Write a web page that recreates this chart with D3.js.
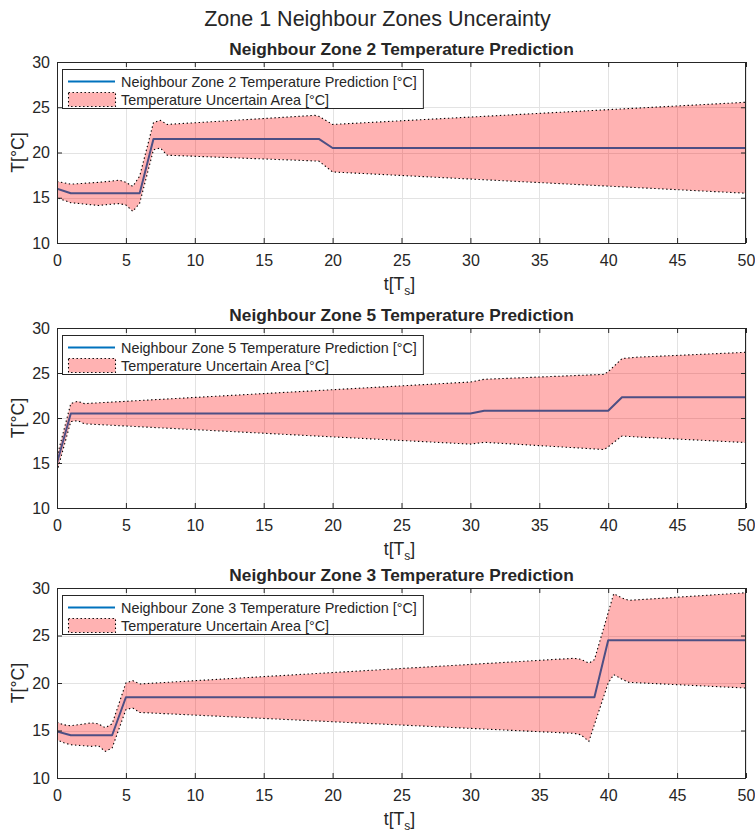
<!DOCTYPE html>
<html>
<head>
<meta charset="utf-8">
<script src="https://cdn.jsdelivr.net/npm/d3@7"></script>
<style>
  body { margin: 0; background: #fff; }
  svg { display: block; }
  text { font-family: "Liberation Sans", Arial, Helvetica, sans-serif; fill: #262626; }
</style>
</head>
<body>
<svg id="chart" width="755" height="834"></svg>
<script>
// ---- data ----
const figureTitle = "Zone 1 Neighbour Zones Uncerainty";
const panelTitles = [
  "Neighbour Zone 2 Temperature Prediction",
  "Neighbour Zone 5 Temperature Prediction",
  "Neighbour Zone 3 Temperature Prediction"
];
const lineLabels = [
  "Neighbour Zone 2 Temperature Prediction [°C]",
  "Neighbour Zone 5 Temperature Prediction [°C]",
  "Neighbour Zone 3 Temperature Prediction [°C]"
];
const bandLabel = "Temperature Uncertain Area [°C]";
const xTicks = [0, 5, 10, 15, 20, 25, 30, 35, 40, 45, 50];
const yTicks = [10, 15, 20, 25, 30];

// Zone 2
const zone2T = [0, 1, 6, 7, 19, 20, 50];
const zone2Temp = [16, 15.5, 15.5, 21.5, 21.5, 20.5, 20.5];
const zone2UpperT = [0, 1, 2, 3, 4, 4.5, 5, 5.5, 6, 7, 7.5, 8, 18.7, 19, 20, 50];
const zone2Upper = [16.8, 16.5, 16.6, 16.7, 16.85, 16.95, 16.7, 16.25, 17.4, 23.3, 23.55, 23.1, 24.1, 24.0, 23.1, 25.55];
const zone2LowerT = [0, 1, 2, 3, 4, 4.5, 5, 5.5, 6, 7, 7.5, 8, 19, 20, 50];
const zone2Lower = [15.0, 14.45, 14.3, 14.15, 14.3, 14.35, 14.2, 13.5, 14.4, 20.3, 20.5, 19.7, 19.05, 17.85, 15.5];

// Zone 5
const zone5T = [0, 1, 30, 31, 40, 41, 50];
const zone5Temp = [15, 20.5, 20.5, 20.8, 20.8, 22.3, 22.3];
const zone5UpperT = [0, 1, 1.5, 2, 30, 31, 39.7, 40, 41, 42, 50];
const zone5Upper = [15.7, 21.6, 21.85, 21.6, 24.0, 24.3, 24.85, 25.15, 26.6, 26.75, 27.3];
const zone5LowerT = [0, 1, 1.5, 2, 30, 31, 39.7, 40, 41, 42, 50];
const zone5Lower = [14.05, 19.6, 19.7, 19.35, 17.1, 17.3, 16.5, 16.8, 18.0, 17.9, 17.27];

// Zone 3
const zone3T = [0, 1, 4, 5, 39, 40, 50];
const zone3Temp = [14.9, 14.5, 14.5, 18.5, 18.5, 24.5, 24.5];
const zone3UpperT = [0, 0.5, 1, 2.5, 3, 3.5, 4, 5, 5.5, 6, 37.5, 38, 38.6, 39, 40.4, 41, 41.5, 50];
const zone3Upper = [15.86, 15.6, 15.5, 15.8, 15.7, 15.3, 15.7, 20.0, 20.25, 19.9, 22.6, 22.5, 22.1, 22.45, 29.4, 28.95, 28.7, 29.5];
const zone3LowerT = [0, 0.5, 1, 2.5, 3, 3.5, 4, 5, 5.5, 6, 37.5, 38, 38.6, 40, 40.4, 41, 41.5, 50];
const zone3Lower = [14.03, 13.7, 13.5, 13.33, 13.4, 12.8, 13.15, 17.2, 17.37, 16.9, 14.7, 14.56, 13.86, 20.0, 20.88, 20.4, 20.07, 19.47];

const zones = [
  { t: zone2T, v: zone2Temp, ut: zone2UpperT, u: zone2Upper, lt: zone2LowerT, l: zone2Lower },
  { t: zone5T, v: zone5Temp, ut: zone5UpperT, u: zone5Upper, lt: zone5LowerT, l: zone5Lower },
  { t: zone3T, v: zone3Temp, ut: zone3UpperT, u: zone3Upper, lt: zone3LowerT, l: zone3Lower }
];

// ---- layout ----
const left = 57, right = 746;
const panelTops = [62, 328, 588];
const panelBottoms = [243, 508, 778];
const axisColor = "#262626";
const gridColor = "#e3e3e3";
const lineBlue = "#0072bd";
const dotted = "1.4,2.6";

const svg = d3.select("#chart");

svg.append("text")
  .attr("x", 377.5).attr("y", 26)
  .attr("text-anchor", "middle")
  .style("font-size", "21.5px")
  .text(figureTitle);

const x = d3.scaleLinear().domain([0, 50]).range([left, right]);

zones.forEach((z, i) => {
  const top = panelTops[i], bottom = panelBottoms[i];
  const y = d3.scaleLinear().domain([10, 30]).range([bottom, top]);
  const g = svg.append("g");

  const clipId = "clip" + i;
  g.append("clipPath").attr("id", clipId)
    .append("rect").attr("x", left).attr("y", top)
    .attr("width", right - left).attr("height", bottom - top);

  // grid
  g.append("g").selectAll("line.gx").data(xTicks).join("line")
    .attr("x1", d => Math.round(x(d)) + 0.5).attr("x2", d => Math.round(x(d)) + 0.5)
    .attr("y1", top).attr("y2", bottom)
    .attr("stroke", gridColor).attr("stroke-width", 1);
  g.append("g").selectAll("line.gy").data(yTicks).join("line")
    .attr("y1", d => Math.round(y(d)) + 0.5).attr("y2", d => Math.round(y(d)) + 0.5)
    .attr("x1", left).attr("x2", right)
    .attr("stroke", gridColor).attr("stroke-width", 1);

  const plot = g.append("g").attr("clip-path", `url(#${clipId})`);

  // predicted temperature
  const line = d3.line().x(d => x(d[0])).y(d => y(d[1]));
  plot.append("path")
    .attr("d", line(d3.zip(z.t, z.v)))
    .attr("fill", "none").attr("stroke", lineBlue)
    .attr("stroke-width", 2).attr("stroke-linejoin", "round");

  // uncertainty band: upper edge forward, lower edge back
  const upperPts = d3.zip(z.ut, z.u);
  const lowerPts = d3.zip(z.lt, z.l).reverse();
  const bandPath = line(upperPts.concat(lowerPts)) + "Z";
  plot.append("path")
    .attr("d", bandPath)
    .attr("fill", "#ff0000").attr("fill-opacity", 0.3)
    .attr("stroke", "none");
  plot.append("path")
    .attr("d", bandPath)
    .attr("fill", "none").attr("stroke", "#000")
    .attr("stroke-width", 1.1).attr("stroke-dasharray", dotted);

  // axes with inward ticks
  const tickLen = 5;
  const bottomAxis = d3.axisBottom(x).tickValues(xTicks).tickSize(-tickLen).tickPadding(12);
  const leftAxis = d3.axisLeft(y).tickValues(yTicks).tickSize(-tickLen).tickPadding(7);
  const topAxis = d3.axisTop(x).tickValues(xTicks).tickSize(-tickLen).tickFormat("");
  const rightAxis = d3.axisRight(y).tickValues(yTicks).tickSize(-tickLen).tickFormat("");

  const styleAxis = sel => {
    sel.select(".domain").remove();
    sel.selectAll(".tick line").attr("stroke", axisColor);
    sel.selectAll(".tick text").style("font-size", "16px").attr("fill", axisColor);
  };
  g.append("g").attr("transform", `translate(0,${bottom})`).call(bottomAxis).call(styleAxis);
  g.append("g").attr("transform", `translate(${left},0)`).call(leftAxis).call(styleAxis);
  g.append("g").attr("transform", `translate(0,${top})`).call(topAxis).call(styleAxis);
  g.append("g").attr("transform", `translate(${right},0)`).call(rightAxis).call(styleAxis);
  g.selectAll(".tick text").attr("font-family", null);

  g.append("rect")
    .attr("x", left + 0.5).attr("y", top + 0.5)
    .attr("width", right - left - 1).attr("height", bottom - top)
    .attr("fill", "none").attr("stroke", axisColor).attr("stroke-width", 1);

  // titles
  g.append("text")
    .attr("x", (left + right) / 2).attr("y", top - 7)
    .attr("text-anchor", "middle")
    .style("font-size", "17.3px").style("font-weight", "bold")
    .attr("fill", "#000")
    .text(panelTitles[i]);

  const xl = g.append("text")
    .attr("x", (left + right) / 2 - 2).attr("y", bottom + 47)
    .attr("text-anchor", "middle")
    .style("font-size", "17.6px");
  xl.append("tspan").text("t[T");
  xl.append("tspan").attr("dy", 5).style("font-size", "12px").text("s");
  xl.append("tspan").attr("dy", -5).text("]");

  g.append("text")
    .attr("transform", `translate(24,${(top + bottom) / 2}) rotate(-90)`)
    .attr("text-anchor", "middle")
    .style("font-size", "17.6px")
    .text("T[°C]");

  // legend
  const lg = g.append("g").attr("transform", `translate(62,${top + 7})`);
  const box = lg.append("rect").attr("x", 0.5).attr("y", 0.5)
    .attr("height", 39).attr("fill", "#fff")
    .attr("stroke", axisColor).attr("stroke-width", 1);
  lg.append("line").attr("x1", 6).attr("x2", 53).attr("y1", 12.5).attr("y2", 12.5)
    .attr("stroke", lineBlue).attr("stroke-width", 2);
  lg.append("rect").attr("x", 6.5).attr("y", 23.5).attr("width", 47).attr("height", 14)
    .attr("fill", "#ff0000").attr("fill-opacity", 0.3)
    .attr("stroke", "#000").attr("stroke-width", 1.1).attr("stroke-dasharray", dotted);
  const t1 = lg.append("text").attr("x", 59).attr("y", 17.5)
    .style("font-size", "14.4px").text(lineLabels[i]);
  const t2 = lg.append("text").attr("x", 59).attr("y", 36)
    .style("font-size", "14.4px").text(bandLabel);
  const w = Math.max(t1.node().getComputedTextLength(), t2.node().getComputedTextLength());
  box.attr("width", 59 + w + 6);
});
</script>
</body>
</html>
